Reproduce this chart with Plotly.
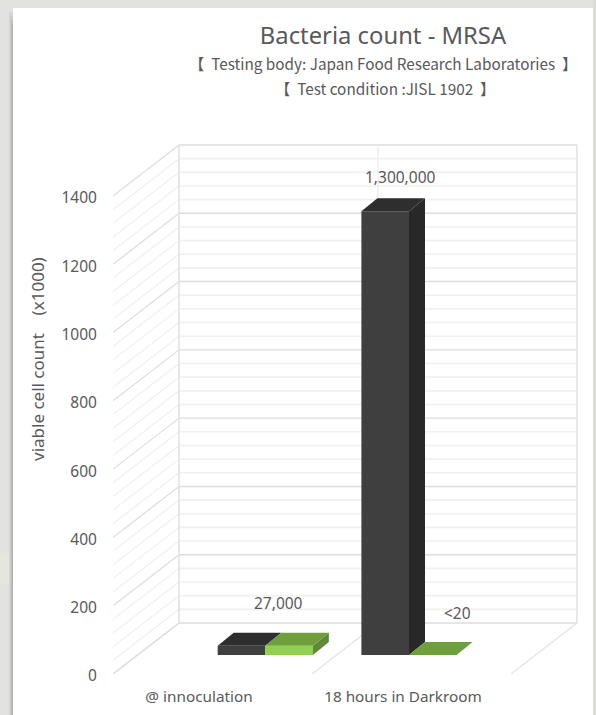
import plotly.graph_objects as go

categories = ["@ innoculation", "18 hours in Darkroom"]
dark_values = [27, 1300]
green_values = [27, 0.02]
dark_labels = ["", "1,300,000"]
shared_labels = ["27,000", ""]
green_labels = ["", "<20"]
y_ticks = [0, 200, 400, 600, 800, 1000, 1200, 1400]

W, H = 596, 715
PX = 478 / 1400           # pixels per value unit
Y0 = 674                  # pixel row of value 0 on the front edge
FONT = "Noto Sans, Open Sans, sans-serif"
TXT = "#595959"


def u(px):
    return px / PX


def row(p):
    return (Y0 - p) / PX


WALL_DX, WALL_DY = 66, 51
FRONT_L, FRONT_R = 113, 511
BAR_BASE = u(Y0 - 655)
BAR_W = 47.6
CENTERS = [265.3, 409]
LABEL_X = [199, 403]
B_DX, B_DY = 16, 13

shapes = []


def rect(x0, y0, x1, y1, color):
    shapes.append(dict(type="rect", xref="paper", yref="paper", x0=x0 / W, x1=x1 / W,
                       y0=1 - y1 / H, y1=1 - y0 / H, fillcolor=color,
                       line=dict(width=0), layer="below"))


def seg(x0, v0, x1, v1, color, w=1.2):
    shapes.append(dict(type="line", xref="x", yref="y", x0=x0, x1=x1, y0=v0, y1=v1,
                       line=dict(color=color, width=w), layer="below"))


# page background and white panel with soft shadow
rect(0, 0, W, H, "#e2e3de")
rect(593, 0, W, H, "#dcdcd8")
shapes.append(dict(type="circle", xref="paper", yref="paper", x0=-4 / W, x1=13 / W,
                   y0=1 - 585 / H, y1=1 - 552 / H, fillcolor="#e5e7de",
                   line=dict(width=0), layer="below"))
for i, c in enumerate(["#d6d6d3", "#cbcbc8", "#bdbdbb", "#b2b2b0"]):
    rect(9 + i, 12 + i * 4, 13, H, c)
rect(13, 8, 593, H, "#ffffff")

# side and back wall grid, every 40 units, heavier every 200
for v in range(0, 1401, 40):
    major = v % 200 == 0
    c = "#dddddd" if major else "#f0f0f0"
    seg(FRONT_L, v, FRONT_L + WALL_DX, v + u(WALL_DY), c)
    seg(FRONT_L + WALL_DX, v + u(WALL_DY), FRONT_R + WALL_DX, v + u(WALL_DY), c, 1.4 if major else 1.6)
top = 1400 + u(WALL_DY)
floor = u(WALL_DY)
mid = (FRONT_L + FRONT_R) / 2
for fx in (FRONT_L, mid, FRONT_R):
    seg(fx + WALL_DX, floor, fx + WALL_DX, top, "#e3e3e3" if fx != mid else "#efefef", 1.6)
    if fx != FRONT_L:
        seg(fx, 0, fx + WALL_DX, floor, "#e3e3e3")
seg(FRONT_L, 0, FRONT_L + WALL_DX, floor, "#dddddd")

fig = go.Figure()

dark_x = [c - BAR_W / 2 for c in CENTERS]
green_x = [c + BAR_W / 2 for c in CENTERS]


def face(xs, ys, color):
    fig.add_trace(go.Scatter(x=xs, y=ys, mode="lines", fill="toself", fillcolor=color,
                             line=dict(width=0, color=color), hoverinfo="skip"))


def solid(xs, vals, neighbours, front, top_c, side_c, name):
    fig.add_trace(go.Bar(x=xs, y=vals, base=BAR_BASE, width=BAR_W, name=name,
                         marker=dict(color=front, line=dict(width=0)), hoverinfo="skip"))
    for xc, v, n in zip(xs, vals, neighbours):
        l, r = xc - BAR_W / 2, xc + BAR_W / 2
        t = BAR_BASE + v
        low = BAR_BASE + n      # the part of the side face the next bar leaves visible
        d = u(B_DY)
        if t > low or n == 0:
            face([r, r + B_DX, r + B_DX, r, r], [low, low + d, t + d, t, low], side_c)
        face([l, r, r + B_DX, l + B_DX, l], [t, t, t + d, t + d, t], top_c)


solid(dark_x, dark_values, green_values, "#3f3f3f", "#2e2e2e", "#282828", "dark")
solid(green_x, green_values, [0, 0], "#92d050", "#6f9e3d", "#5f8a35", "green")

annotations = []


def note(text, x, p, size=15.5, **kw):
    annotations.append(dict(text=text, x=x, y=row(p), xref="x", yref="y", showarrow=False,
                            font=dict(family=FONT, size=size, color=TXT),
                            xanchor="center", yanchor="middle", **kw))


note(shared_labels[0], 278, 603)
note(dark_labels[1], 400, 177)
note(green_labels[1], 457, 613)
annotations.append(dict(text="【\u00a0\u00a0Testing body: Japan Food Research Laboratories\u00a0\u00a0】", x=383 / W, y=1 - 63 / H,
                        xref="paper", yref="paper", showarrow=False, xanchor="center", yanchor="middle",
                        font=dict(family="Noto Sans CJK JP", size=15.3, color=TXT)))
annotations.append(dict(text="【\u00a0\u00a0Test condition :JISL 1902\u00a0\u00a0】", x=385 / W, y=1 - 88 / H,
                        xref="paper", yref="paper", showarrow=False, xanchor="center", yanchor="middle",
                        font=dict(family="Noto Sans CJK JP", size=15.3, color=TXT)))
annotations.append(dict(text="viable cell count\u00a0\u00a0\u00a0\u00a0(x1000)", x=37 / W, y=1 - 359 / H, textangle=-90,
                        xref="paper", yref="paper", showarrow=False, xanchor="center", yanchor="middle",
                        font=dict(family=FONT, size=17, color=TXT)))

fig.update_layout(
    width=W, height=H, autosize=False, showlegend=False, barmode="overlay",
    margin=dict(l=0, r=0, t=0, b=0, pad=0),
    paper_bgcolor="#ffffff", plot_bgcolor="rgba(0,0,0,0)",
    title=dict(text="Bacteria count - MRSA", x=383 / W, y=1 - 36 / H, xanchor="center", yanchor="middle",
               font=dict(family=FONT, size=23.8, color=TXT)),
    shapes=shapes, annotations=annotations,
    xaxis=dict(domain=[FRONT_L / W, 1], range=[FRONT_L, W], showgrid=False, zeroline=False, showline=False,
               automargin=False,
               tickmode="array", tickvals=LABEL_X, ticktext=categories, ticks="outside", ticklen=9,
               tickcolor="rgba(0,0,0,0)", tickfont=dict(family=FONT, size=15.3, color=TXT), fixedrange=True),
    yaxis=dict(domain=[(H - Y0) / H, 1], range=[0, row(0)], showgrid=False, zeroline=False, showline=False,
               automargin=False, ticklabelshift=2,
               tickmode="array", tickvals=y_ticks, ticktext=[str(v) for v in y_ticks], ticks="outside", ticklen=12,
               tickcolor="rgba(0,0,0,0)", tickfont=dict(family=FONT, size=15.5, color=TXT), fixedrange=True),
)

fig.write_html("out.html", config=dict(displayModeBar=False),
               post_script="document.body.style.margin='0';document.body.style.overflow='hidden';")
